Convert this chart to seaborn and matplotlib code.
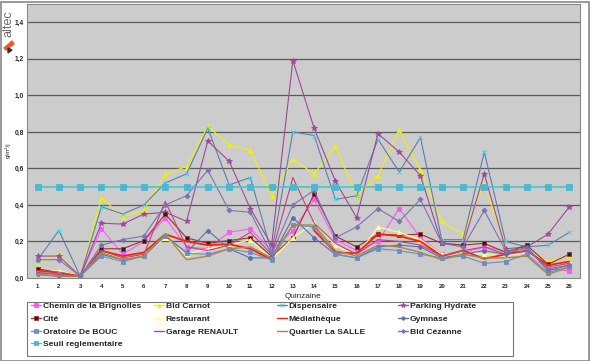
import numpy as np
import pandas as pd
import matplotlib
matplotlib.use("Agg")
import matplotlib.pyplot as plt
from matplotlib.lines import Line2D
from matplotlib.patches import Rectangle, Polygon
import seaborn as sns

# Quinzaine 1..26
quinzaine = list(range(1, 27))

chemin = [0.03, 0.02, 0.01, 0.27, 0.13, 0.20, 0.33, 0.17, 0.16, 0.25, 0.27, 0.15, 0.26,
          0.43, 0.21, 0.15, 0.20, 0.38, 0.22, 0.13, 0.14, 0.17, 0.15, 0.14, 0.05, 0.04]
carnot = [0.08, 0.13, 0.01, 0.44, 0.335, 0.37, 0.57, 0.61, 0.83, 0.73, 0.70, 0.45, 0.65,
          0.57, 0.72, 0.45, 0.56, 0.81, 0.59, 0.31, 0.24, 0.52, 0.17, 0.15, 0.09, 0.12]
dispensaire = [0.10, 0.26, 0.01, 0.39, 0.35, 0.40, 0.52, 0.57, 0.82, 0.51, 0.55, 0.14, 0.80,
               0.78, 0.43, 0.45, 0.76, 0.58, 0.77, 0.21, 0.21, 0.69, 0.20, 0.17, 0.18, 0.25]
parking = [0.12, 0.12, 0.01, 0.30, 0.295, 0.35, 0.36, 0.31, 0.75, 0.64, 0.38, 0.18, 1.19,
           0.82, 0.53, 0.33, 0.79, 0.69, 0.56, 0.19, 0.18, 0.57, 0.16, 0.17, 0.24, 0.39]
cite = [0.05, 0.03, 0.01, 0.16, 0.16, 0.205, 0.35, 0.22, 0.19, 0.205, 0.22, 0.12, 0.22,
        0.46, 0.23, 0.17, 0.24, 0.235, 0.24, 0.19, 0.18, 0.19, 0.14, 0.18, 0.075, 0.13]
restaurant = [0.03, 0.04, 0.01, 0.14, 0.11, 0.12, 0.22, 0.13, 0.16, 0.18, 0.21, 0.10, 0.22,
              0.30, 0.18, 0.12, 0.28, 0.25, 0.21, 0.13, 0.14, 0.13, 0.12, 0.14, 0.06, 0.09]
mediatheque = [0.04, 0.03, 0.01, 0.15, 0.12, 0.14, 0.24, 0.20, 0.18, 0.185, 0.16, 0.10, np.nan,
               0.26, 0.14, 0.135, 0.24, 0.23, 0.20, 0.12, 0.15, 0.105, 0.13, 0.15, 0.07, 0.09]
gymnase = [0.02, 0.01, 0.01, 0.13, 0.10, 0.12, 0.23, 0.14, 0.26, 0.16, 0.11, 0.11, 0.33,
           0.22, 0.13, 0.11, 0.17, 0.18, 0.17, 0.11, 0.13, 0.15, 0.13, 0.17, 0.04, 0.07]
oratoire = [0.03, 0.02, 0.01, 0.12, 0.09, 0.12, 0.23, 0.135, 0.13, 0.16, 0.14, 0.10, 0.29,
            0.28, 0.13, 0.11, 0.16, 0.15, 0.13, 0.11, 0.12, 0.08, 0.09, 0.13, 0.03, 0.06]
garage = [0.03, 0.02, 0.01, 0.15, 0.11, 0.13, 0.42, 0.17, 0.15, 0.18, 0.25, 0.13, 0.55,
          0.30, 0.19, 0.13, 0.21, 0.20, 0.18, 0.12, 0.15, 0.17, 0.13, 0.15, 0.06, 0.08]
quartier = [0.02, 0.01, 0.01, 0.14, 0.10, 0.12, 0.24, 0.10, 0.12, 0.16, 0.17, 0.11, 0.29,
            0.29, 0.15, 0.12, 0.18, 0.17, 0.14, 0.10, 0.13, 0.11, 0.11, 0.12, 0.02, 0.06]
cezanne = [0.10, 0.10, 0.01, 0.18, 0.21, 0.23, 0.40, 0.45, 0.59, 0.37, 0.36, 0.13, 0.40,
           0.48, 0.22, 0.28, 0.38, 0.31, 0.43, 0.19, 0.17, 0.37, 0.15, 0.16, 0.05, 0.07]
seuil = [0.5] * 26

# name, values, line colour, marker, marker face, marker edge, markersize, linewidth
series = [
    ("Chemin de la Brignolles", chemin, "#FF55FF", "s", "#FF55FF", "#FF55FF", 3, 0.8),
    ("Bld Carnot", carnot, "#F2F200", "^", "#F2F200", "#F2F200", 3, 0.8),
    ("Dispensaire", dispensaire, "#5F7DB0", "x", "#22DDEE", "#22DDEE", 3, 0.8),
    ("Parking Hydrate", parking, "#A0489A", "*", "#A0489A", "#A0489A", 4, 0.8),
    ("Cité", cite, "#A03030", "s", "#222222", "#A03030", 3, 0.8),
    ("Restaurant", restaurant, "#FFFF99", "^", "#FFFF99", "#FFFF99", 3, 0.8),
    ("Médiathèque", mediatheque, "#FF2000", "", "#FF2000", "#FF2000", 0, 1.3),
    ("Gymnase", gymnase, "#5870A8", "P", "#5870A8", "#5870A8", 3, 0.8),
    ("Oratoire De BOUC", oratoire, "#6C8EC0", "s", "#6C8EC0", "#6C8EC0", 3, 0.8),
    ("Garage RENAULT", garage, "#C8407A", "", "#C8407A", "#C8407A", 0, 0.8),
    ("Quartier La SALLE", quartier, "#A8884C", "", "#A8884C", "#A8884C", 0, 1.0),
    ("Bld Cézanne", cezanne, "#7E72B4", "D", "#7E72B4", "#7E72B4", 2.5, 0.8),
    ("Seuil reglementaire", seuil, "#3EC8D2", "s", "#4CB8D0", "#4CB8D0", 4, 1.2),
]

sns.set_theme(style="white")
plt.rcParams['font.family'] = ['Liberation Sans', 'DejaVu Sans']

fig = plt.figure(figsize=(5.9, 3.61), dpi=100)
ax = fig.add_axes([27 / 590, 1 - 278 / 361, (580 - 27) / 590, (278 - 4) / 361])
ax.set_facecolor("#CCCCCC")

for y in [0.2, 0.4, 0.6, 0.8, 1.0, 1.2, 1.4]:
    ax.axhline(y, color="#5A5A5A", lw=0.9, zorder=0)

for name, vals, col, mk, mfc, mec, ms, lw in series:
    df = pd.DataFrame({"q": quinzaine, "v": vals})
    # split on missing values so gaps stay open
    df["seg"] = df["v"].isna().cumsum()
    df = df.dropna()
    sns.lineplot(data=df, x="q", y="v", units="seg", estimator=None, ax=ax,
                 color=col, lw=lw, marker=mk if mk else None, markersize=ms,
                 markerfacecolor=mfc, markeredgecolor=mec, markeredgewidth=0.6,
                 legend=False)

ax.set_xlim(0.5, 26.5)
ax.set_ylim(0, 1.5)
ax.set_xticks(quinzaine)
ax.set_xticklabels([str(q) for q in quinzaine], fontsize=4.3, fontweight="bold")
ax.set_xticks(np.arange(0.5, 27, 1), minor=True)
ax.set_yticks(np.arange(0, 1.41, 0.2))
ax.set_yticklabels([f"{t:.1f}".replace(".", ",") for t in np.arange(0, 1.41, 0.2)],
                   fontsize=4.8, fontweight="bold")
ax.tick_params(axis="x", which="major", length=0, pad=4)
ax.tick_params(axis="x", which="minor", length=2.5, width=0.6, color="#666666", direction="out")
ax.tick_params(axis="y", length=0, pad=2)
ax.set_xlabel("")
ax.set_ylabel("")
for sp in ax.spines.values():
    sp.set_color("#888888")
    sp.set_linewidth(0.8)

fig.text(303 / 590, 1 - 296 / 361, "Quinzaine", fontsize=5.9, ha="center", va="center")
fig.text(8 / 590, 1 - 150 / 361, "g/m²/j", fontsize=4.5, rotation=90, ha="center", va="center")

# logo
fig.text(8 / 590, 1 - 24 / 361, "altec", fontsize=9, rotation=90, color="#6A6A6A",
         ha="center", va="center")
fig.patches.append(Polygon([(4 / 590, 1 - 48 / 361), (12 / 590, 1 - 41 / 361),
                            (14 / 590, 1 - 44 / 361), (6 / 590, 1 - 50 / 361)],
                           closed=True, transform=fig.transFigure, color="#F05A28"))
fig.patches.append(Polygon([(8 / 590, 1 - 48 / 361), (12 / 590, 1 - 50 / 361),
                            (8 / 590, 1 - 53 / 361)],
                           closed=True, transform=fig.transFigure, color="#333333"))

# legend frame and border
fig.patches.append(Rectangle((27 / 590, 1 - 356 / 361), (513 - 27) / 590, (356 - 302) / 361,
                             transform=fig.transFigure, fill=False, ec="#777777", lw=0.8))
fig.patches.append(Rectangle((0.5 / 590, 0.5 / 361), 588.5 / 590, 359 / 361,
                             transform=fig.transFigure, fill=False, ec="#888888", lw=1.2))

handles = {}
for name, vals, col, mk, mfc, mec, ms, lw in series:
    handles[name] = Line2D([], [], color=col, lw=1.0, marker=mk if mk else None,
                           markersize=max(ms - 0.5, 0), markerfacecolor=mfc,
                           markeredgecolor=mec, markeredgewidth=0.6)

names = [s[0] for s in series]
col_x = [31, 154, 277, 398]
for c in range(4):
    col_names = names[c::4]
    fig.legend([handles[n] for n in col_names], col_names, loc="upper left",
               bbox_to_anchor=(col_x[c] / 590, 1 - 302 / 361), frameon=False,
               borderaxespad=0, borderpad=0, handlelength=1.15, handletextpad=0.25,
               labelspacing=0.58, prop={"size": 6.1, "weight": "bold"})

fig.savefig("out.png", dpi=100, facecolor="white")
